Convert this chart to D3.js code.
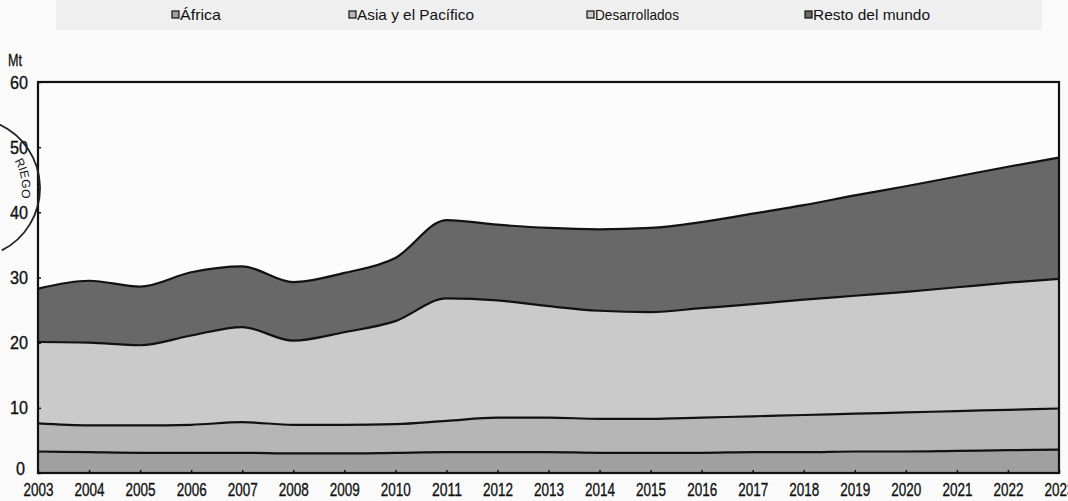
<!DOCTYPE html>
<html lang="es">
<head>
<meta charset="utf-8">
<script src="https://cdn.jsdelivr.net/npm/d3@7"></script>
<style>
  html, body { margin: 0; padding: 0; background: #fafafa; }
  svg { display: block; }
  text { font-family: "Liberation Sans", Arial, sans-serif; fill: #111; }
</style>
</head>
<body>
<svg id="chart" width="1068" height="501"></svg>
<script>
// Years on the horizontal axis
const years = [2003, 2004, 2005, 2006, 2007, 2008, 2009, 2010, 2011, 2012, 2013,
               2014, 2015, 2016, 2017, 2018, 2019, 2020, 2021, 2022, 2023];

// Series (Mt), stacked bottom to top in legend order
const africa        = [3.3, 3.2, 3.1, 3.1, 3.1, 3.0, 3.0, 3.1, 3.2, 3.2, 3.2,
                       3.1, 3.1, 3.1, 3.2, 3.2, 3.3, 3.3, 3.4, 3.5, 3.6];
const asiaPacifico  = [4.3, 4.1, 4.2, 4.3, 4.7, 4.4, 4.4, 4.4, 4.8, 5.3, 5.3,
                       5.2, 5.2, 5.4, 5.5, 5.7, 5.8, 6.0, 6.1, 6.2, 6.3];
const desarrollados = [12.5, 12.7, 12.3, 13.7, 14.6, 12.9, 14.2, 15.8, 18.8, 18.0, 17.1,
                       16.6, 16.4, 16.8, 17.2, 17.7, 18.1, 18.5, 19.0, 19.5, 19.9];
const restoMundo    = [8.2, 9.5, 9.0, 9.7, 9.3, 9.0, 9.1, 9.7, 12.0, 11.6, 12.0,
                       12.5, 12.9, 13.2, 13.9, 14.5, 15.4, 16.2, 17.0, 17.8, 18.6];

const seriesNames = ["África", "Asia y el Pacífico", "Desarrollados", "Resto del mundo"];
const seriesKeys  = ["africa", "asia", "desarrollados", "resto"];
const seriesFills = ["#a0a0a0", "#b6b6b6", "#cacaca", "#686868"];

const yTicks = [0, 10, 20, 30, 40, 50, 60];

const rows = years.map((yr, i) => ({
  year: yr,
  africa: africa[i],
  asia: asiaPacifico[i],
  desarrollados: desarrollados[i],
  resto: restoMundo[i]
}));

const svg = d3.select("#chart");
const W = 1068, H = 501;
const margin = { top: 82, right: 9, bottom: 28, left: 38 };

const x = d3.scaleLinear().domain([2003, 2023]).range([margin.left, W - margin.right]);
const y = d3.scaleLinear().domain([0, 60]).range([H - margin.bottom, margin.top]);

// Condensed, slightly heavy lettering for axis labels
function condense(sel, widthFn) {
  sel.attr("textLength", widthFn).attr("lengthAdjust", "spacingAndGlyphs")
     .attr("stroke", "#111").attr("stroke-width", 0.35);
}

// Legend strip
svg.append("rect")
  .attr("x", 56).attr("y", 0).attr("width", 986).attr("height", 30)
  .attr("fill", "#efefef");

const legendPos = [172, 349, 587, 805];
const legendTextW = [41, 117, 84, 117];
const legend = svg.append("g");
seriesNames.forEach((name, i) => {
  const g = legend.append("g").attr("transform", `translate(${legendPos[i]},15)`);
  g.append("rect")
    .attr("x", 0).attr("y", -4).attr("width", 7).attr("height", 7)
    .attr("fill", seriesFills[i]).attr("stroke", "#111").attr("stroke-width", 1.2);
  g.append("text")
    .attr("x", 8).attr("y", 5)
    .attr("font-size", 15)
    .attr("textLength", legendTextW[i]).attr("lengthAdjust", "spacingAndGlyphs")
    .text(name);
});

// Plot background
svg.append("rect")
  .attr("x", margin.left).attr("y", margin.top)
  .attr("width", W - margin.left - margin.right)
  .attr("height", H - margin.top - margin.bottom)
  .attr("fill", "#fcfcfc");

const stack = d3.stack().keys(seriesKeys);
const layers = stack(rows);

const area = d3.area()
  .x(d => x(d.data.year))
  .y0(d => y(d[0]))
  .y1(d => y(d[1]))
  .curve(d3.curveMonotoneX);

const topLine = d3.line()
  .x(d => x(d.data.year))
  .y(d => y(d[1]))
  .curve(d3.curveMonotoneX);

const plot = svg.append("g");
plot.selectAll("path.band")
  .data(layers)
  .join("path")
  .attr("class", "band")
  .attr("fill", (d, i) => seriesFills[i])
  .attr("d", area);

plot.selectAll("path.edge")
  .data(layers)
  .join("path")
  .attr("class", "edge")
  .attr("fill", "none")
  .attr("stroke", "#111")
  .attr("stroke-width", 2.2)
  .attr("d", topLine);

// Axes
const yAxis = d3.axisLeft(y).tickValues(yTicks).tickSize(-3).tickPadding(10).tickFormat(d3.format("d"));
const gy = svg.append("g").attr("transform", `translate(${margin.left},0)`).call(yAxis);
gy.select(".domain").remove();
gy.selectAll(".tick line").attr("stroke", "#111").attr("stroke-width", 1.5);
gy.selectAll(".tick text").attr("font-size", 19);
condense(gy.selectAll(".tick text"), d => d === 0 ? 9 : 18);
gy.selectAll(".tick").filter(d => d === 0).select("text")
  .attr("dy", "0.1em").attr("x", -13);

const xAxis = d3.axisBottom(x).tickValues(years).tickSize(-3).tickPadding(10).tickFormat(d3.format("d"));
const gx = svg.append("g").attr("transform", `translate(0,${H - margin.bottom})`).call(xAxis);
gx.select(".domain").remove();
gx.selectAll(".tick line").attr("stroke", "#111").attr("stroke-width", 1.5);
gx.selectAll(".tick text").attr("font-size", 19);
condense(gx.selectAll(".tick text"), 30);

svg.selectAll(".tick text").style("fill", "#111");

// Unit label
svg.append("text")
  .attr("x", 8).attr("y", 66)
  .attr("font-size", 16)
  .attr("stroke", "#111").attr("stroke-width", 0.3)
  .attr("textLength", 14).attr("lengthAdjust", "spacingAndGlyphs")
  .text("Mt");

// Plot frame
svg.append("rect")
  .attr("x", margin.left).attr("y", margin.top)
  .attr("width", W - margin.left - margin.right)
  .attr("height", H - margin.top - margin.bottom)
  .attr("fill", "none").attr("stroke", "#111").attr("stroke-width", 2.2);

// Partial round stamp at the left margin
const stamp = svg.append("g");
const cx = -30, cy = 188, r = 70;
stamp.append("path")
  .attr("d", `M ${cx + r * Math.cos(-1.15)} ${cy + r * Math.sin(-1.15)} A ${r} ${r} 0 0 1 ${cx + r * Math.cos(1.1)} ${cy + r * Math.sin(1.1)}`)
  .attr("fill", "none").attr("stroke", "#222").attr("stroke-width", 1.8);
stamp.append("path")
  .attr("id", "stampText")
  .attr("d", `M ${cx + 52 * Math.cos(-0.55)} ${cy + 52 * Math.sin(-0.55)} A 52 52 0 0 1 ${cx + 52 * Math.cos(1.2)} ${cy + 52 * Math.sin(1.2)}`)
  .attr("fill", "none");
stamp.append("text")
  .attr("font-size", 12)
  .append("textPath")
  .attr("href", "#stampText")
  .attr("startOffset", "0")
  .text("RIEGO");
</script>
</body>
</html>
